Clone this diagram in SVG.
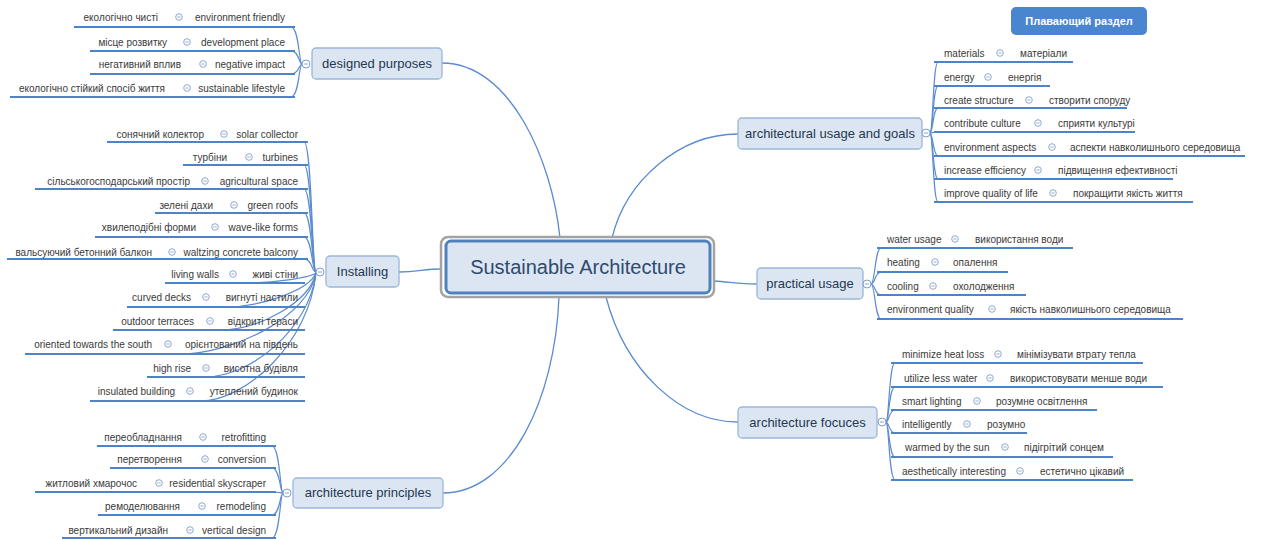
<svg xmlns="http://www.w3.org/2000/svg" xmlns:xlink="http://www.w3.org/1999/xlink" width="1264" height="540" viewBox="0 0 1264 540">
<style>
text{font-family:"Liberation Sans",Arial,sans-serif}
.lf{font-size:10px;fill:#3a3a3a}
.l{text-anchor:end}
.nt{font-size:13px;fill:#24384f;text-anchor:middle}
.nr{fill:#dce6f3;stroke:#9ab6da;stroke-width:1.3}
.ul{stroke:#4d84c8;stroke-width:2;fill:none}
.cn{stroke:#5b8bd0;stroke-width:1.2;fill:none}
.mc{stroke:#5b8bd0;stroke-width:1.3;fill:none}
</style>
<defs>
<g id="ico"><circle r="3.3" fill="#fff" stroke="#8ea9cf" stroke-width="1"/><line x1="-1.7" x2="1.7" y1="0" y2="0" stroke="#8ea9cf" stroke-width="0.9"/></g>
<g id="col"><circle r="4" fill="#fff" stroke="#7f9cc8" stroke-width="1"/><line x1="-2" x2="2" y1="0" y2="0" stroke="#7f9cc8" stroke-width="0.9"/></g>
</defs>
<rect width="1264" height="540" fill="#fff"/>

<g id="connectors">
<path class="mc" d="M442,63 C510,63 552,160 560,238"/>
<path class="mc" d="M612,238 C626,180 680,134 738,134"/>
<path class="mc" d="M399,272 C418,272 424,269 441,269"/>
<path class="mc" d="M714,281 C730,282 740,284 757,284"/>
<path class="mc" d="M559,297 C555,400 510,493 443,493"/>
<path class="mc" d="M606,297 C625,370 680,422 738,422"/>
<!-- designed purposes -->
<path class="cn" d="M302,64 C299,64 299,27 291,27"/>
<path class="cn" d="M302,64 C299,64 299,51 291,51"/>
<path class="cn" d="M302,64 C299,64 299,74 291,74"/>
<path class="cn" d="M302,64 C299,64 299,97 291,97"/>
<!-- installing -->
<path class="cn" d="M316,272 C312,272 312,142 304,142"/>
<path class="cn" d="M316,272 C312,272 312,165 304,165"/>
<path class="cn" d="M316,272 C312,272 312,189 304,189"/>
<path class="cn" d="M316,272 C312,272 312,213 304,213"/>
<path class="cn" d="M316,272 C312,272 312,237 304,237"/>
<path class="cn" d="M316,272 C312,272 312,259 304,259"/>
<path class="cn" d="M316,273 C309,278 273,283 245,283"/>
<path class="cn" d="M316,273 C309,290 262,307 225,307"/>
<path class="cn" d="M316,273 C309,303 258,330 220,330"/>
<path class="cn" d="M316,273 C309,316 234,354 180,354"/>
<path class="cn" d="M316,273 C309,330 250,377 205,377"/>
<path class="cn" d="M316,273 C309,343 246,401 200,401"/>
<!-- principles -->
<path class="cn" d="M283,493 C280,493 280,446 272,446"/>
<path class="cn" d="M283,493 C280,493 280,468 272,468"/>
<path class="cn" d="M283,493 C280,493 280,492 272,492"/>
<path class="cn" d="M283,493 C280,493 280,515 272,515"/>
<path class="cn" d="M283,493 C280,493 280,538 272,538"/>
<!-- usage and goals -->
<path class="cn" d="M930,133 C933,133 933,62 938,62"/>
<path class="cn" d="M930,133 C933,133 933,86 938,86"/>
<path class="cn" d="M930,133 C933,133 933,108 938,108"/>
<path class="cn" d="M930,133 C933,133 933,132 938,132"/>
<path class="cn" d="M930,133 C933,133 933,156 938,156"/>
<path class="cn" d="M930,133 C933,133 933,179 938,179"/>
<path class="cn" d="M930,133 C933,133 933,202 938,202"/>
<!-- practical -->
<path class="cn" d="M871,284 C875,284 875,248 881,248"/>
<path class="cn" d="M871,284 C875,284 875,272 881,272"/>
<path class="cn" d="M871,284 C875,284 875,295 881,295"/>
<path class="cn" d="M871,284 C875,284 875,319 881,319"/>
<!-- focuces -->
<path class="cn" d="M886,422 C889,422 889,363 895,363"/>
<path class="cn" d="M886,422 C889,422 889,387 895,387"/>
<path class="cn" d="M886,422 C889,422 889,410 895,410"/>
<path class="cn" d="M886,422 C889,422 889,433 895,433"/>
<path class="cn" d="M886,422 C889,422 889,457 895,457"/>
<path class="cn" d="M886,422 C889,422 889,480 895,480"/>
</g>

<g id="central">
<rect x="441" y="237" width="273" height="60" rx="7" fill="none" stroke="#a3a3a3" stroke-width="2.5"/>
<rect x="446" y="241" width="264" height="52" rx="5" fill="#dce6f3" stroke="#4f81bd" stroke-width="3"/>
<text x="578" y="274" font-size="20" fill="#2f4a6d" text-anchor="middle">Sustainable Architecture</text>
</g>

<g id="floating">
<rect x="1011" y="7" width="136" height="28" rx="5" fill="#4a86cf"/>
<text x="1079" y="25" font-size="11" font-weight="bold" fill="#fff" text-anchor="middle">Плавающий раздел</text>
</g>

<g id="n-designed">
<rect class="nr" x="312" y="48" width="130" height="31" rx="4"/>
<text class="nt" x="377" y="68">designed purposes</text>
<use xlink:href="#col" transform="translate(306,64)"/>
</g>
<g id="n-installing">
<rect class="nr" x="326" y="256" width="73" height="31" rx="4"/>
<text class="nt" x="362.5" y="276">Installing</text>
<use xlink:href="#col" transform="translate(320,272)"/>
</g>
<g id="n-principles">
<rect class="nr" x="293" y="478" width="150" height="30" rx="4"/>
<text class="nt" x="368" y="497">architecture principles</text>
<use xlink:href="#col" transform="translate(287,493)"/>
</g>
<g id="n-usage">
<rect class="nr" x="738" y="118" width="184" height="31" rx="4"/>
<text class="nt" x="830" y="138">architectural usage and goals</text>
<use xlink:href="#col" transform="translate(926,133)"/>
</g>
<g id="n-practical">
<rect class="nr" x="757" y="268" width="106" height="31" rx="4"/>
<text class="nt" x="810" y="288">practical usage</text>
<use xlink:href="#col" transform="translate(867,284)"/>
</g>
<g id="n-focuces">
<rect class="nr" x="738" y="407" width="139" height="31" rx="4"/>
<text class="nt" x="807.5" y="427">architecture focuces</text>
<use xlink:href="#col" transform="translate(882,422)"/>
</g>

<!-- designed purposes leaves -->
<g id="dp1"><path class="ul" d="M74,27H295"/><text class="lf l" x="158" y="20.5">екологічно чисті</text><use xlink:href="#ico" transform="translate(179,17)"/><text class="lf l" x="285" y="20.5">environment friendly</text></g>
<g id="dp2"><path class="ul" d="M90,51H295"/><text class="lf l" x="167" y="45.5">місце розвитку</text><use xlink:href="#ico" transform="translate(187,42)"/><text class="lf l" x="285" y="45.5">development place</text></g>
<g id="dp3"><path class="ul" d="M90,74H295"/><text class="lf l" x="181" y="67.5">негативний вплив</text><use xlink:href="#ico" transform="translate(203,64)"/><text class="lf l" x="285" y="67.5">negative impact</text></g>
<g id="dp4"><path class="ul" d="M10,97H295"/><text class="lf l" x="165" y="91.5">екологічно стійкий спосіб життя</text><use xlink:href="#ico" transform="translate(187,88)"/><text class="lf l" x="285" y="91.5">sustainable lifestyle</text></g>

<!-- installing leaves -->
<g id="in1"><path class="ul" d="M107,142H308"/><text class="lf l" x="204" y="137.5">сонячний колектор</text><use xlink:href="#ico" transform="translate(224,134)"/><text class="lf l" x="298" y="137.5">solar collector</text></g>
<g id="in2"><path class="ul" d="M183,165H308"/><text class="lf l" x="227" y="160.5">турбіни</text><use xlink:href="#ico" transform="translate(249,157)"/><text class="lf l" x="298" y="160.5">turbines</text></g>
<g id="in3"><path class="ul" d="M35,189H308"/><text class="lf l" x="190" y="184.5">сільськогосподарський простір</text><use xlink:href="#ico" transform="translate(205,181)"/><text class="lf l" x="298" y="184.5">agricultural space</text></g>
<g id="in4"><path class="ul" d="M155,213H308"/><text class="lf l" x="213" y="208.5">зелені дахи</text><use xlink:href="#ico" transform="translate(234,205)"/><text class="lf l" x="298" y="208.5">green roofs</text></g>
<g id="in5"><path class="ul" d="M95,237H308"/><text class="lf l" x="196" y="230.5">хвилеподібні форми</text><use xlink:href="#ico" transform="translate(215,227)"/><text class="lf l" x="298" y="230.5">wave-like forms</text></g>
<g id="in6"><path class="ul" d="M7,259H308"/><text class="lf l" x="152" y="255.5">вальсуючий бетонний балкон</text><use xlink:href="#ico" transform="translate(172,252)"/><text class="lf l" x="298" y="255.5">waltzing concrete balcony</text></g>
<g id="in7"><path class="ul" d="M165,283H305"/><text class="lf l" x="219" y="277.5">living walls</text><use xlink:href="#ico" transform="translate(233,274)"/><text class="lf l" x="298" y="277.5">живі стіни</text></g>
<g id="in8"><path class="ul" d="M127,307H305"/><text class="lf l" x="191" y="300.5">curved decks</text><use xlink:href="#ico" transform="translate(206,297)"/><text class="lf l" x="298" y="300.5">вигнуті настили</text></g>
<g id="in9"><path class="ul" d="M113,330H305"/><text class="lf l" x="194" y="324.5">outdoor terraces</text><use xlink:href="#ico" transform="translate(210,321)"/><text class="lf l" x="298" y="324.5">відкриті тераси</text></g>
<g id="in10"><path class="ul" d="M25,354H305"/><text class="lf l" x="152" y="347.5">oriented towards the south</text><use xlink:href="#ico" transform="translate(168,344)"/><text class="lf l" x="298" y="347.5">орієнтований на південь</text></g>
<g id="in11"><path class="ul" d="M147,377H305"/><text class="lf l" x="191" y="371.5">high rise</text><use xlink:href="#ico" transform="translate(206,368)"/><text class="lf l" x="298" y="371.5">висотна будівля</text></g>
<g id="in12"><path class="ul" d="M90,401H305"/><text class="lf l" x="175" y="394.5">insulated building</text><use xlink:href="#ico" transform="translate(190,391)"/><text class="lf l" x="298" y="394.5">утеплений будинок</text></g>

<!-- principles leaves -->
<g id="ap1"><path class="ul" d="M97,446H276"/><text class="lf l" x="182" y="440.5">переобладнання</text><use xlink:href="#ico" transform="translate(203,437)"/><text class="lf l" x="266" y="440.5">retrofitting</text></g>
<g id="ap2"><path class="ul" d="M110,468H276"/><text class="lf l" x="182" y="462.5">перетворення</text><use xlink:href="#ico" transform="translate(205,459)"/><text class="lf l" x="266" y="462.5">conversion</text></g>
<g id="ap3"><path class="ul" d="M35,492H276"/><text class="lf l" x="137" y="486.5">житловий хмарочос</text><use xlink:href="#ico" transform="translate(159,483)"/><text class="lf l" x="266" y="486.5">residential skyscraper</text></g>
<g id="ap4"><path class="ul" d="M98,515H276"/><text class="lf l" x="180" y="509.5">ремоделювання</text><use xlink:href="#ico" transform="translate(202,506)"/><text class="lf l" x="266" y="509.5">remodeling</text></g>
<g id="ap5"><path class="ul" d="M62,538H276"/><text class="lf l" x="168" y="533.5">вертикальний дизайн</text><use xlink:href="#ico" transform="translate(190,530)"/><text class="lf l" x="266" y="533.5">vertical design</text></g>

<!-- usage and goals leaves -->
<g id="ug1"><path class="ul" d="M934,62H1073"/><text class="lf" x="944" y="56.5">materials</text><use xlink:href="#ico" transform="translate(1000,53)"/><text class="lf" x="1020" y="56.5">матеріали</text></g>
<g id="ug2"><path class="ul" d="M934,86H1050"/><text class="lf" x="944" y="80.5">energy</text><use xlink:href="#ico" transform="translate(988,77)"/><text class="lf" x="1008" y="80.5">енергія</text></g>
<g id="ug3"><path class="ul" d="M934,108H1127"/><text class="lf" x="944" y="103.5">create structure</text><use xlink:href="#ico" transform="translate(1029,100)"/><text class="lf" x="1049" y="103.5">створити споруду</text></g>
<g id="ug4"><path class="ul" d="M934,132H1135"/><text class="lf" x="944" y="126.5">contribute culture</text><use xlink:href="#ico" transform="translate(1038,123)"/><text class="lf" x="1058" y="126.5">сприяти культурі</text></g>
<g id="ug5"><path class="ul" d="M934,156H1245"/><text class="lf" x="944" y="150.5">environment aspects</text><use xlink:href="#ico" transform="translate(1052,147)"/><text class="lf" x="1070" y="150.5">аспекти навколишнього середовища</text></g>
<g id="ug6"><path class="ul" d="M934,179H1173"/><text class="lf" x="944" y="173.5">increase efficiency</text><use xlink:href="#ico" transform="translate(1038,170)"/><text class="lf" x="1058" y="173.5">підвищення ефективності</text></g>
<g id="ug7"><path class="ul" d="M934,202H1193"/><text class="lf" x="944" y="196.5">improve quality of life</text><use xlink:href="#ico" transform="translate(1053,193)"/><text class="lf" x="1073" y="196.5">покращити якість життя</text></g>

<!-- practical leaves -->
<g id="pu1"><path class="ul" d="M877,248H1073"/><text class="lf" x="887" y="242.5">water usage</text><use xlink:href="#ico" transform="translate(955,239)"/><text class="lf" x="975" y="242.5">використання води</text></g>
<g id="pu2"><path class="ul" d="M877,272H1008"/><text class="lf" x="887" y="265.5">heating</text><use xlink:href="#ico" transform="translate(935,262)"/><text class="lf" x="953" y="265.5">опалення</text></g>
<g id="pu3"><path class="ul" d="M877,295H1026"/><text class="lf" x="887" y="289.5">cooling</text><use xlink:href="#ico" transform="translate(933,286)"/><text class="lf" x="953" y="289.5">охолодження</text></g>
<g id="pu4"><path class="ul" d="M877,319H1183"/><text class="lf" x="887" y="312.5">environment quality</text><use xlink:href="#ico" transform="translate(992,309)"/><text class="lf" x="1010" y="312.5">якість навколишнього середовища</text></g>

<!-- focuces leaves -->
<g id="af1"><path class="ul" d="M891,363H1143"/><text class="lf" x="902" y="357.5">minimize heat loss</text><use xlink:href="#ico" transform="translate(998,354)"/><text class="lf" x="1017" y="357.5">мінімізувати втрату тепла</text></g>
<g id="af2"><path class="ul" d="M891,387H1163"/><text class="lf" x="904" y="381.5">utilize less water</text><use xlink:href="#ico" transform="translate(990,378)"/><text class="lf" x="1010" y="381.5">використовувати менше води</text></g>
<g id="af3"><path class="ul" d="M891,410H1097"/><text class="lf" x="902" y="404.5">smart lighting</text><use xlink:href="#ico" transform="translate(977,401)"/><text class="lf" x="996" y="404.5">розумне освітлення</text></g>
<g id="af4"><path class="ul" d="M891,433H1027"/><text class="lf" x="902" y="427.5">intelligently</text><use xlink:href="#ico" transform="translate(967,424)"/><text class="lf" x="987" y="427.5">розумно</text></g>
<g id="af5"><path class="ul" d="M891,457H1113"/><text class="lf" x="905" y="450.5">warmed by the sun</text><use xlink:href="#ico" transform="translate(1005,447)"/><text class="lf" x="1024" y="450.5">підігрітий сонцем</text></g>
<g id="af6"><path class="ul" d="M891,480H1133"/><text class="lf" x="902" y="474.5">aesthetically interesting</text><use xlink:href="#ico" transform="translate(1020,471)"/><text class="lf" x="1040" y="474.5">естетично цікавий</text></g>
</svg>
